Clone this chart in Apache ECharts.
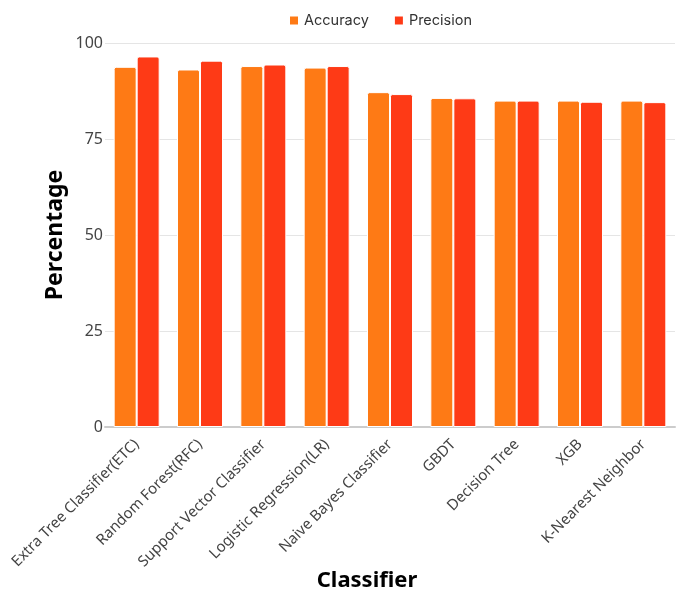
<!DOCTYPE html>
<html lang="en">
<head>
    <meta charset="UTF-8">
    <title>Classifier comparison</title>
    <script src="https://cdn.jsdelivr.net/npm/echarts@6/dist/echarts.min.js"></script>
    <style>
        html, body { margin: 0; padding: 0; background: #fff; }
        #main { width: 677px; height: 596px; }
    </style>
</head>
<body>
    <div id="main"></div>
    <script>
        // data
        const classifiers = ['Extra Tree Classifier(ETC)', 'Random Forest(RFC)', 'Support Vector Classifier',
            'Logistic Regression(LR)', 'Naive Bayes Classifier', 'GBDT', 'Decision Tree', 'XGB', 'K-Nearest Neighbor'];
        const accuracy = [93.8, 93.1, 94.0, 93.6, 87.2, 85.7, 85.0, 85.0, 85.0];
        const precision = [96.5, 95.4, 94.4, 94.0, 86.7, 85.6, 85.0, 84.7, 84.6];
        const yTicks = [0, 25, 50, 75, 100];

        const chart = echarts.init(document.getElementById('main'));
        const barStyle = color => ({ color: color, borderColor: '#fff', borderWidth: 1, borderRadius: [2, 2, 0, 0] });

        chart.setOption({
            animation: false,
            textStyle: { fontFamily: 'Noto Sans' },
            legend: {
                top: 8,
                left: 283,
                itemWidth: 10, itemHeight: 10, itemGap: 24,
                icon: 'rect',
                textStyle: { fontFamily: 'Inter', fontSize: 14.5, color: '#333' },
                data: ['Accuracy', 'Precision']
            },
            grid: { left: 105, right: 2, top: 43, bottom: 169, outerBoundsMode: 'none' },
            xAxis: {
                type: 'category',
                data: classifiers,
                name: 'Classifier',
                nameLocation: 'middle',
                nameGap: 143,
                nameMoveOverlap: false,
                nameTextStyle: { fontSize: 22, fontWeight: 'bold', color: '#000', padding: [0, 46, 0, 0] },
                axisLine: { lineStyle: { color: '#ccc', width: 2 } },
                axisTick: { show: false },
                axisLabel: { rotate: 45, fontSize: 15, color: '#444', margin: 15, interval: 0,
                    padding: [64, 0, 0, 0] }
            },
            yAxis: {
                type: 'value',
                min: 0, max: 100, interval: 25,
                name: 'Percentage',
                nameLocation: 'middle',
                nameGap: 38,
                nameMoveOverlap: false,
                nameTextStyle: { fontSize: 23, fontWeight: 'bold', color: '#000' },
                axisLabel: { fontSize: 16, color: '#444', margin: 2,
                    formatter: v => yTicks.includes(v) ? String(v) : '' },
                splitLine: { lineStyle: { color: '#e5e5e5' } }
            },
            series: [
                { name: 'Accuracy', type: 'bar', data: accuracy, barWidth: 23, barGap: '0%',
                  itemStyle: barStyle('#fe7a15') },
                { name: 'Precision', type: 'bar', data: precision, barWidth: 23,
                  itemStyle: barStyle('#fe3a16') }
            ]
        });
    </script>
</body>
</html>
